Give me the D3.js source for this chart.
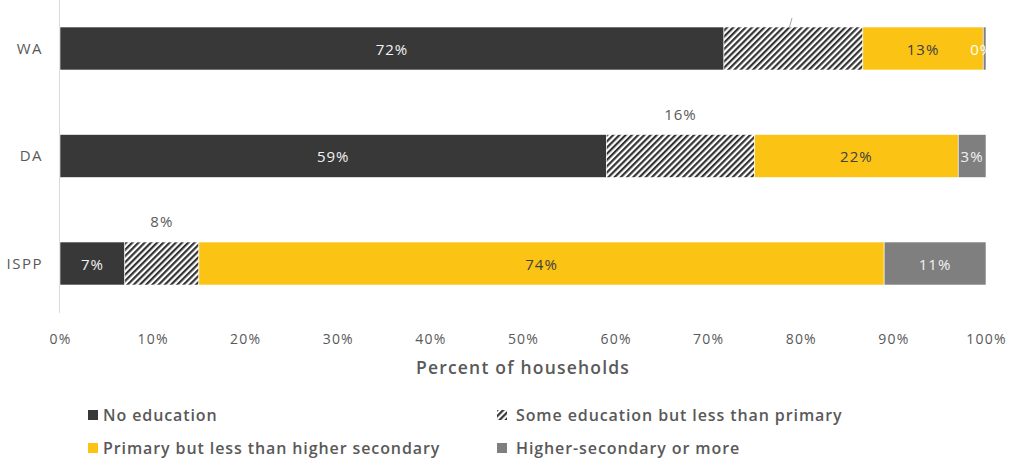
<!DOCTYPE html>
<html>
<head>
<meta charset="utf-8">
<script src="https://cdn.jsdelivr.net/npm/d3@7"></script>
<style>
  html, body { margin: 0; padding: 0; background: #fff; }
  svg { display: block; font-family: "Open Sans", Lato, sans-serif; }
</style>
</head>
<body>
<svg id="chart" width="1011" height="459"></svg>
<script>
// Household education levels by group (percent of households)
const groups = ["WA", "DA", "ISPP"];
const seriesNames = [
  "No education",
  "Some education but less than primary",
  "Primary but less than higher secondary",
  "Higher-secondary or more"
];
const noEducation      = [71.7, 59, 7];
const someEducation    = [15, 16, 8];
const primary          = [13, 22, 74];
const higherSecondary  = [0.3, 3, 11];
const xTicks = [0, 10, 20, 30, 40, 50, 60, 70, 80, 90, 100];

const seriesValues = [noEducation, someEducation, primary, higherSecondary];
const fills = ["#383838", "url(#hatch)", "#FBC314", "#7F7F7F"];
const labelColors = ["#f2f2f2", "#595959", "#404040", "#f2f2f2"];

const svg = d3.select("#chart");
const defs = svg.append("defs");
const pat = defs.append("pattern")
  .attr("id", "hatch")
  .attr("patternUnits", "userSpaceOnUse")
  .attr("width", 4.4).attr("height", 4.4)
  .attr("patternTransform", "rotate(45)");
pat.append("rect").attr("width", 4.4).attr("height", 4.4).attr("fill", "#fff");
pat.append("rect").attr("width", 2.2).attr("height", 4.4).attr("fill", "#333");

const x = d3.scaleLinear().domain([0, 100]).range([60, 986]);
const y = d3.scaleBand().domain(groups).range([-5.25, 317.25])
  .paddingInner(0.6).paddingOuter(0.3);

// Build stacked table
const table = groups.map((g, i) => {
  const row = { group: g };
  seriesNames.forEach((s, k) => row[s] = seriesValues[k][i]);
  return row;
});
const stacked = d3.stack().keys(seriesNames)(table);

// Vertical category axis line
svg.append("line")
  .attr("x1", 59.5).attr("x2", 59.5)
  .attr("y1", 0).attr("y2", 313)
  .attr("stroke", "#d9d9d9").attr("stroke-width", 1);

// Bars
const layers = svg.append("g").selectAll("g")
  .data(stacked).join("g")
  .attr("fill", (d, k) => fills[k]);

layers.selectAll("rect")
  .data(d => d)
  .join("rect")
  .attr("x", d => x(d[0]))
  .attr("y", d => y(d.data.group))
  .attr("width", d => x(d[1]) - x(d[0]))
  .attr("height", y.bandwidth())
  .attr("stroke", "#fff").attr("stroke-width", 0.6);

// Value labels
const fmt = v => Math.round(v) + "%";
const valueFont = { size: 15, spacing: 1 };
stacked.forEach((layer, k) => {
  layer.forEach((d, i) => {
    const g = d.data.group;
    const v = d[1] - d[0];
    const cx = (x(d[0]) + x(d[1])) / 2;
    if (k === 1) {
      // hatched segment: label sits above the bar
      if (g === "WA") {
        // leader line stub
        svg.append("line")
          .attr("x1", x(d[0]) + (x(d[1]) - x(d[0])) * 0.47).attr("y1", y(g) + 1)
          .attr("x2", x(d[0]) + (x(d[1]) - x(d[0])) * 0.49).attr("y2", y(g) - 9)
          .attr("stroke", "#a6a6a6").attr("stroke-width", 1);
        return;
      }
      svg.append("text")
        .attr("x", cx).attr("y", y(g) - 15)
        .attr("text-anchor", "middle")
        .attr("font-size", valueFont.size).attr("letter-spacing", valueFont.spacing)
        .attr("fill", "#595959")
        .text(fmt(v));
      return;
    }
    let tx = cx, color = labelColors[k], anchor = "middle";
    if (g === "WA" && k === 3) {
      color = "#ffffff";
      tx = x(d[0]) - 13;
      anchor = "start";
    }
    svg.append("text")
      .attr("x", tx).attr("y", y(g) + y.bandwidth() / 2 + 6)
      .attr("text-anchor", anchor)
      .attr("font-size", valueFont.size).attr("letter-spacing", valueFont.spacing)
      .attr("fill", color)
      .text(fmt(v));
  });
});
// the overflowing 0% label is cut at the plot's right edge
svg.append("rect").attr("x", 987).attr("y", y("WA")).attr("width", 24)
  .attr("height", y.bandwidth()).attr("fill", "#fff");

// Category labels
svg.append("g").selectAll("text")
  .data(groups).join("text")
  .attr("x", 43).attr("y", d => y(d) + y.bandwidth() / 2 + 5)
  .attr("text-anchor", "end")
  .attr("font-size", 15).attr("letter-spacing", 1.5).attr("fill", "#595959")
  .text(d => d);

// X axis
const xAxis = d3.axisBottom(x).tickValues(xTicks).tickSize(0).tickPadding(0)
  .tickFormat(d => d + "%");
const ax = svg.append("g").attr("transform", "translate(0,334)").call(xAxis);
ax.select(".domain").remove();
ax.selectAll("text")
  .attr("font-family", "'Open Sans', sans-serif")
  .attr("font-size", 14).attr("letter-spacing", 1.2).attr("fill", "#595959");

svg.append("text")
  .attr("x", (x(0) + x(100)) / 2).attr("y", 374)
  .attr("text-anchor", "middle")
  .attr("font-size", 17.5).attr("font-weight", 600).attr("letter-spacing", 1.2)
  .attr("fill", "#595959")
  .text("Percent of households");

// Legend
const legendPos = [[88, 421], [497, 421], [88, 454], [497, 454]];
const legend = svg.append("g").selectAll("g")
  .data(seriesNames).join("g")
  .attr("transform", (d, k) => `translate(${legendPos[k][0]},${legendPos[k][1]})`);
legend.append("rect")
  .attr("x", 0).attr("y", -11).attr("width", 10).attr("height", 10)
  .attr("fill", (d, k) => fills[k]);
legend.append("text")
  .attr("x", (d, k) => k % 2 === 1 ? 19 : 15).attr("y", 0)
  .attr("font-size", 16).attr("font-weight", 600).attr("letter-spacing", 0.9)
  .attr("fill", "#595959")
  .text(d => d);
</script>
</body>
</html>
